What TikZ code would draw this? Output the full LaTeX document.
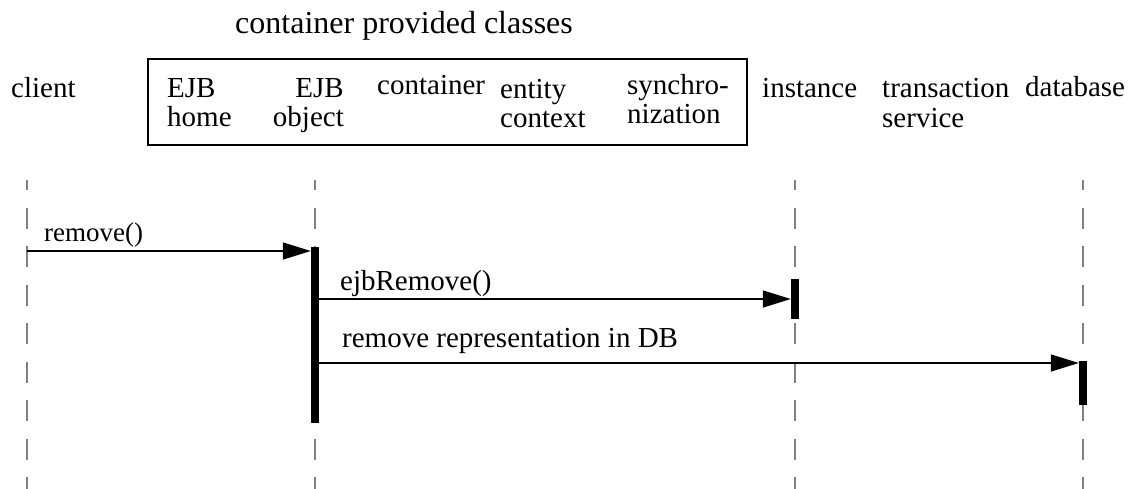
\documentclass[tikz,border=0pt]{standalone}
\usepackage{fontspec}
\setmainfont{Liberation Serif}
\usetikzlibrary{arrows.meta}
\begin{document}
\begin{tikzpicture}[x=1pt,y=-1pt,
  lbl/.style={anchor=base west, inner sep=0pt, font=\fontsize{29}{29}\selectfont},
  lifeline/.style={draw=black!50, line width=1.6pt, dash pattern=on 21pt off 17.5pt, dash phase=11pt},
  actbar/.style={fill=black, draw=none, minimum width=8pt, inner sep=0pt},
  msg/.style={line width=1.3pt, -{Triangle[length=28pt, width=17pt]}},
  grp/.style={draw, line width=1.5pt, inner sep=0pt, minimum width=599pt, minimum height=86pt}]
\useasboundingbox (0,0) rectangle (1137,489);
% title and group box
\node[lbl, font=\fontsize{32}{32}\selectfont] (title) at (235,34) {container provided classes};
\node[grp] (box) at (447.5,102) {};
% headers
\node[lbl] (client) at (11,98) {client};
\node[lbl] (homeA) at (167,98) {EJB};
\node[lbl] (homeB) at (167,127) {home};
\node[lbl, anchor=base east] (objA) at (344,98) {EJB};
\node[lbl, anchor=base east] (objB) at (344,127) {object};
\node[lbl] (cont) at (377,95) {container};
\node[lbl] (entA) at (500,99) {entity};
\node[lbl] (entB) at (500,128) {context};
\node[lbl] (synA) at (627,95) {synchro-};
\node[lbl] (synB) at (627,124) {nization};
\node[lbl] (inst) at (762,98) {instance};
\node[lbl] (trA) at (882,98) {transaction};
\node[lbl] (trB) at (882,128) {service};
\node[lbl] (db) at (1025,97) {database};
% lifelines
\coordinate (clT) at (27,180);  \coordinate (clB) at (27,489);
\coordinate (obT) at (315,180); \coordinate (obB) at (315,489);
\coordinate (inT) at (795,180); \coordinate (inB) at (795,489);
\coordinate (dbT) at (1083,180);\coordinate (dbB) at (1083,489);
\draw[lifeline] (clT) -- (clB);
\draw[lifeline] (obT) -- (obB);
\draw[lifeline] (inT) -- (inB);
\draw[lifeline] (dbT) -- (dbB);
% activation bars
\node[actbar, minimum height=176pt] (objbar) at (315,335) {};
\node[actbar, minimum height=40pt] (instbar) at (795,299) {};
\node[actbar, minimum height=44pt] (dbbar) at (1083,383) {};
% messages
\coordinate (m1) at (27,251);
\draw[msg] (m1) -- (m1 -| objbar.west);
\node[lbl, font=\fontsize{27}{27}\selectfont] (m1l) at (44,241) {remove()};
\draw[msg] (instbar.west -| objbar.east) -- (instbar.west);
\node[lbl] (m2l) at (340,290) {ejbRemove()};
\coordinate (m3) at (1079,363);
\draw[msg] (m3 -| objbar.east) -- (m3 -| dbbar.west);
\node[lbl] (m3l) at (342,347) {remove representation in DB};
\end{tikzpicture}
\end{document}
